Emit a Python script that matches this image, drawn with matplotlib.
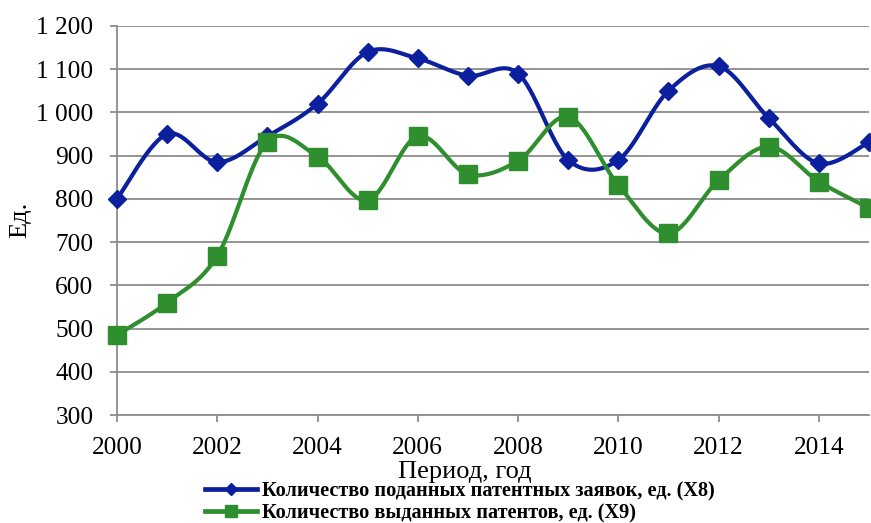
import numpy as np
import matplotlib
matplotlib.use("Agg")
import matplotlib.pyplot as plt
from matplotlib.ticker import FuncFormatter, MultipleLocator
from matplotlib.lines import Line2D

years = list(range(2000, 2016))
x8 = [800, 950, 885, 945, 1020, 1140, 1125, 1085, 1090, 890, 890, 1050, 1107, 987, 882, 931]
x9 = [485, 560, 668, 932, 898, 797, 945, 857, 888, 990, 832, 720, 843, 921, 840, 779]
label8 = "Количество поданных патентных заявок, ед. (X8)"
label9 = "Количество выданных патентов, ед. (X9)"

plt.rcParams['font.family'] = ['Liberation Serif', 'DejaVu Serif']


def smooth(xs, ys, n=30):
    # Excel-like smoothed line: Bezier segments with Catmull-Rom control points
    xs = np.asarray(xs, float)
    ys = np.asarray(ys, float)
    px, py = [], []
    m = len(xs)
    for i in range(m - 1):
        p0 = np.array([xs[max(i - 1, 0)], ys[max(i - 1, 0)]])
        p1 = np.array([xs[i], ys[i]])
        p2 = np.array([xs[i + 1], ys[i + 1]])
        p3 = np.array([xs[min(i + 2, m - 1)], ys[min(i + 2, m - 1)]])
        c1 = p1 + (p2 - p0) / 6.0
        c2 = p2 - (p3 - p1) / 6.0
        t = np.linspace(0, 1, n)[:, None]
        pts = ((1 - t) ** 3) * p1 + 3 * ((1 - t) ** 2) * t * c1 + 3 * (1 - t) * t ** 2 * c2 + t ** 3 * p2
        px.extend(pts[:, 0])
        py.extend(pts[:, 1])
    return px, py


blue = '#0c1f9e'
green = '#2f8f2f'

fig = plt.figure(figsize=(8.71, 5.23), dpi=100)
ax = fig.add_axes([117 / 871, 1 - 415 / 523, (869 - 117) / 871, (415 - 26) / 523])

sx, sy = smooth(years, x8)
ax.plot(sx, sy, color=blue, lw=3.0, solid_capstyle='round', zorder=3, clip_on=False)
ax.plot(years, x8, linestyle='none', marker='D', ms=9.5, color=blue, zorder=4, clip_on=False)
sx, sy = smooth(years, x9)
ax.plot(sx, sy, color=green, lw=3.0, solid_capstyle='round', zorder=3, clip_on=False)
ax.plot(years, x9, linestyle='none', marker='s', ms=12.5, color=green, zorder=4, clip_on=False)

ax.set_xlim(2000, 2015)
ax.set_ylim(300, 1200)
ax.xaxis.set_major_locator(MultipleLocator(2))
ax.yaxis.set_major_locator(MultipleLocator(100))
ax.yaxis.set_major_formatter(FuncFormatter(lambda v, p: f"{int(v):,}".replace(",", " ")))
ax.grid(axis='y', color='#8c8c8c', lw=1.3)
ax.set_axisbelow(True)
for s in ['top', 'right']:
    ax.spines[s].set_visible(False)
for s in ['left', 'bottom']:
    ax.spines[s].set_color('#8c8c8c')
    ax.spines[s].set_linewidth(1.3)
ax.tick_params(axis='both', colors='#8c8c8c', labelcolor='black', labelsize=18.3, length=5, width=1.3)
ax.tick_params(axis='x', pad=11)
ax.tick_params(axis='y', pad=12)
fig.text(465 / 871, 1 - 472 / 523, "Период, год", fontsize=19, ha='center', va='center')
fig.text(20 / 871, 1 - 220 / 523, "Ед.", fontsize=19, ha='center', va='center', rotation=90)

h8 = Line2D([], [], color=blue, lw=3.4, marker='D', ms=6.5)
h9 = Line2D([], [], color=green, lw=3.4, marker='s', ms=8.5)
fig.legend([h8, h9], [label8, label9], loc='lower left', bbox_to_anchor=(197 / 871, -0.016),
           frameon=False, prop={'weight': 'bold', 'size': 14.6}, handlelength=2.56,
           handletextpad=0.25, labelspacing=0.1, borderaxespad=0)

fig.savefig('out.png', dpi=100)
